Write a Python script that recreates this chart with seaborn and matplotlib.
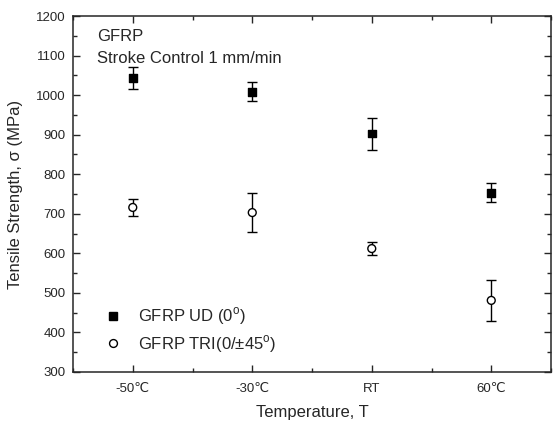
import numpy as np
import pandas as pd
import seaborn as sns
import matplotlib.pyplot as plt
from matplotlib.ticker import MultipleLocator

temps = ['-50\u2103', '-30\u2103', 'RT', '60\u2103']
ud_mean = [1043, 1008, 903, 753]
ud_lo = [1015, 985, 862, 729]
ud_hi = [1070, 1032, 943, 778]
tri_mean = [716, 703, 612, 481]
tri_lo = [695, 653, 595, 430]
tri_hi = [737, 752, 628, 532]

sns.set_style('ticks')
plt.rcParams['font.family'] = ['Liberation Sans', 'DejaVu Sans']
plt.rcParams['mathtext.fontset'] = 'custom'
plt.rcParams['mathtext.rm'] = 'Liberation Sans'

pos = np.arange(len(temps))
df = pd.DataFrame({
    'pos': np.concatenate([pos, pos]),
    'val': ud_mean + tri_mean,
    'series': ['GFRP UD (0$^{\\mathrm{o}}$)'] * 4 + ['GFRP TRI(0/\u00b145$^{\\mathrm{o}}$)'] * 4,
})

fig = plt.figure(figsize=(5.54, 4.26), dpi=100)
ax = fig.add_axes([0.1318, 0.1268, 0.8628, 0.8356])

# error bars first, markers on top
for m, lo, hi in [(ud_mean, ud_lo, ud_hi), (tri_mean, tri_lo, tri_hi)]:
    m = np.array(m)
    yerr = [m - np.array(lo), np.array(hi) - m]
    ax.errorbar(pos, m, yerr=yerr, fmt='none', ecolor='black', elinewidth=1,
                capsize=3.3, capthick=1, zorder=2)

sns.scatterplot(data=df, x='pos', y='val', hue='series', style='series',
                markers=['s', 'o'], palette=['black', 'white'], edgecolor='black',
                linewidth=1, s=32, ax=ax, zorder=3)

ax.set_xlim(-0.5, 3.5)
ax.set_ylim(300, 1200)
ax.set_xticks(pos)
ax.set_xticklabels(temps)
ax.xaxis.set_minor_locator(MultipleLocator(0.5))
ax.yaxis.set_major_locator(MultipleLocator(100))
ax.yaxis.set_minor_locator(MultipleLocator(50))
ax.tick_params(which='both', direction='in', top=True, right=True, labelsize=9.5, width=1)
ax.tick_params(which='major', length=5)
ax.tick_params(which='minor', length=3)
ax.tick_params(axis='x', pad=8)
ax.tick_params(axis='y', pad=5.5)
for sp in ax.spines.values():
    sp.set_linewidth(1.1)

ax.set_xlabel('Temperature, T', fontsize=12, labelpad=7)
ax.set_ylabel('Tensile Strength, \u03c3 (MPa)', fontsize=12, labelpad=9)

ax.text(0.05, 0.942, 'GFRP', transform=ax.transAxes, fontsize=12, va='center')
ax.text(0.05, 0.88, 'Stroke Control 1 mm/min', transform=ax.transAxes, fontsize=12, va='center')

leg = ax.legend(loc='center left', bbox_to_anchor=(0.018, 0.118), frameon=False,
                fontsize=12, handletextpad=0.5, labelspacing=0.35, title=None)

fig.savefig('out.png', dpi=100)
